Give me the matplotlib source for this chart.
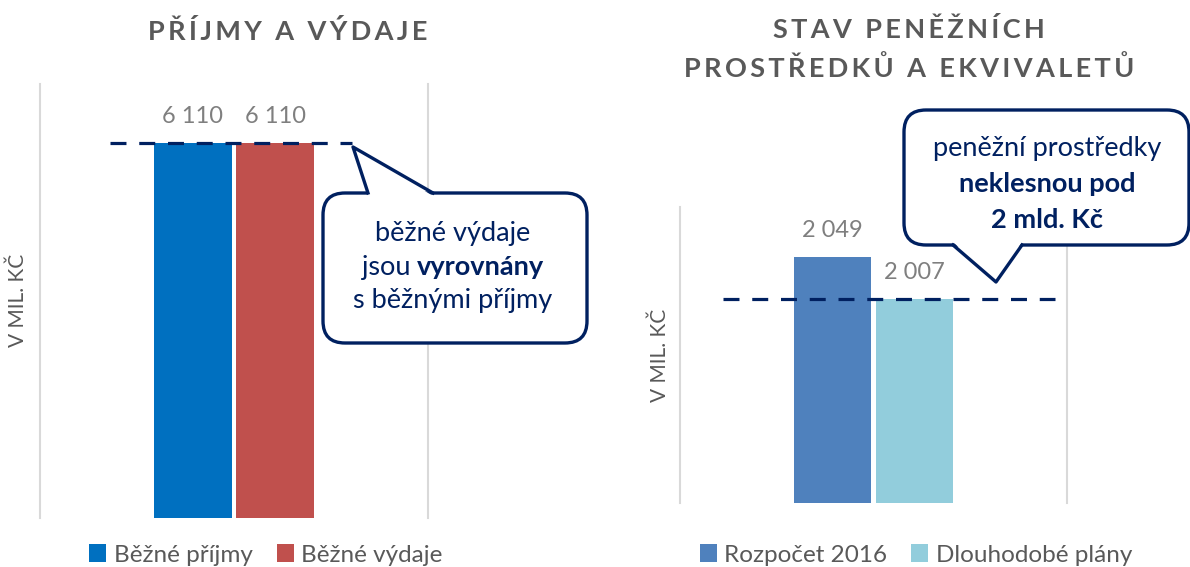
import matplotlib
matplotlib.use('Agg')
import matplotlib.pyplot as plt
import matplotlib.transforms as mtrans
from matplotlib.patches import FancyBboxPatch, Polygon
from matplotlib.lines import Line2D


#%%  Data
left_title   = 'PŘÍJMY A VÝDAJE'
left_series  = ['Běžné příjmy', 'Běžné výdaje']
left_values  = [6110, 6110]
left_colors  = ['#0070C0', '#C0504D']

right_title  = ['STAV PENĚŽNÍCH', 'PROSTŘEDKŮ A EKVIVALETŮ']
right_series = ['Rozpočet 2016', 'Dlouhodobé plány']
right_values = [2049, 2007]
right_colors = ['#4F81BD', '#92CDDC']

ylabel = 'V MIL. KČ'
note_left  = [('běžné výdaje', None), ('jsou ', 'vyrovnány'), ('s běžnými příjmy', None)]
note_right = [('peněžní prostředky', 'normal'), ('neklesnou pod', 'bold'), ('2 mld. Kč', 'bold')]


#%%  Setup
W, H = 1190, 567
plt.rcParams['font.family'] = ['Lato', 'DejaVu Sans']
navy  = '#002060'
grey  = '#595959'
lgrey = '#7F7F7F'
grid  = '#D9D9D9'

fig = plt.figure(figsize=(W/100, H/100), dpi=100)
# pixel coords (y down) -> display
px = mtrans.Affine2D().scale(1/100, -1/100).translate(0, H/100) + fig.dpi_scale_trans

def px_axes(x0, y0, x1, y1):
    return fig.add_axes([x0/W, 1-y1/H, (x1-x0)/W, (y1-y0)/H])

def fmt(v):
    return f'{v:,}'.replace(',', ' ')

def spaced(s):
    return '\u2009'.join(s)


#%%  Bar charts
axL = px_axes(40, 84, 428, 518)
axR = px_axes(680, 207, 1067, 503)

offsets = [-0.106, 0.106]
for ax, vals, cols, names in [(axL, left_values, left_colors, left_series),
                              (axR, right_values, right_colors, right_series)]:
    for off, v, c, n in zip(offsets, vals, cols, names):
        ax.bar(off, v, 0.2, color=c, label=n, zorder=2)
        ax.annotate(fmt(v), xy=(off, v), xytext=(0, 19), textcoords='offset points',
                    ha='center', va='center', fontsize=17, color=lgrey)
    ax.set_xlim(-0.5, 0.5)
    ax.set_xticks([])
    ax.set_yticks([])
    for s in ['top', 'bottom']:
        ax.spines[s].set_visible(False)
    for s in ['left', 'right']:
        ax.spines[s].set_color(grid)
        ax.spines[s].set_linewidth(1.5)

axL.set_ylim(0, 7070)
axR.set_ylim(1800, 2100)

# Threshold lines
axL.plot([-0.32, 0.304], [left_values[1]]*2, color=navy, lw=2.3, ls=(0, (5, 4)),
         clip_on=False, zorder=3)
axR.plot([-0.389, 0.469], [right_values[1]]*2, color=navy, lw=2.3, ls=(0, (5, 4)),
         clip_on=False, zorder=3)

# Titles and axis labels
fig.text(288/W, 1-31/H, spaced(left_title), ha='center', va='center',
         fontsize=19.5, fontweight='bold', color=grey)
fig.text(909/W, 1-30/H, spaced(right_title[0]), ha='center', va='center',
         fontsize=19.5, fontweight='bold', color=grey)
fig.text(909/W, 1-68/H, spaced(right_title[1]), ha='center', va='center',
         fontsize=19.5, fontweight='bold', color=grey)
fig.text(18/W, 1-300/H, ylabel, rotation=90, ha='center', va='center', fontsize=15, color=grey)
fig.text(660/W, 1-355/H, ylabel, rotation=90, ha='center', va='center', fontsize=15, color=grey)

# Legends
for ax, cx in [(axL, 266), (axR, 916)]:
    h, l = ax.get_legend_handles_labels()
    fig.legend(h, l, loc='center', bbox_to_anchor=(cx/W, 1-555/H), ncol=2, frameon=False,
               fontsize=17.5, labelcolor=grey, handlelength=0.7, handleheight=0.7,
               handletextpad=0.3, columnspacing=1.0, borderaxespad=0)


#%%  Callouts
def callout(x0, y0, x1, y1, base, tip, side):
    box = FancyBboxPatch((x0, y0), x1-x0, y1-y0, boxstyle='round,pad=0,rounding_size=22',
                         fc='white', ec=navy, lw=2.4, transform=px, zorder=5)
    fig.add_artist(box)
    ey = y0 if side == 'top' else y1
    inset = 3 if side == 'top' else -3
    tri = Polygon([(base[0], ey+inset), tip, (base[1], ey+inset)], closed=True,
                  fc='white', ec='none', transform=px, zorder=6)
    fig.add_artist(tri)
    fig.add_artist(Line2D([base[0], tip[0], base[1]], [ey, tip[1], ey], color=navy, lw=2.4,
                          transform=px, zorder=7))

callout(323, 193, 587, 343, (368, 433), (353, 147), 'top')
callout(904, 110, 1189, 245, (953, 1022), (996, 282), 'bottom')

# Left callout text, with one bold word in the middle line
fig.canvas.draw()
r = fig.canvas.get_renderer()
for (txt, bold), yb in zip(note_left, [241, 275, 308]):
    if bold is None:
        fig.text(453/W, 1-yb/H, txt, ha='center', va='baseline', fontsize=19.5, color=navy, zorder=8)
    else:
        t1 = fig.text(0, 1-yb/H, txt, ha='left', va='baseline', fontsize=19.5, color=navy, zorder=8)
        t2 = fig.text(0, 1-yb/H, bold, ha='left', va='baseline', fontsize=19.5, color=navy,
                      fontweight='bold', zorder=8)
        w1 = t1.get_window_extent(r).width
        w2 = t2.get_window_extent(r).width
        xs = 453 - (w1+w2)/2
        t1.set_x(xs/W)
        t2.set_x((xs+w1)/W)

for (txt, wt), yb in zip(note_right, [156, 192, 228]):
    fig.text(1047/W, 1-yb/H, txt, ha='center', va='baseline', fontsize=19.5, color=navy,
             fontweight=wt, zorder=8)

plt.savefig('out.png', dpi=100)
